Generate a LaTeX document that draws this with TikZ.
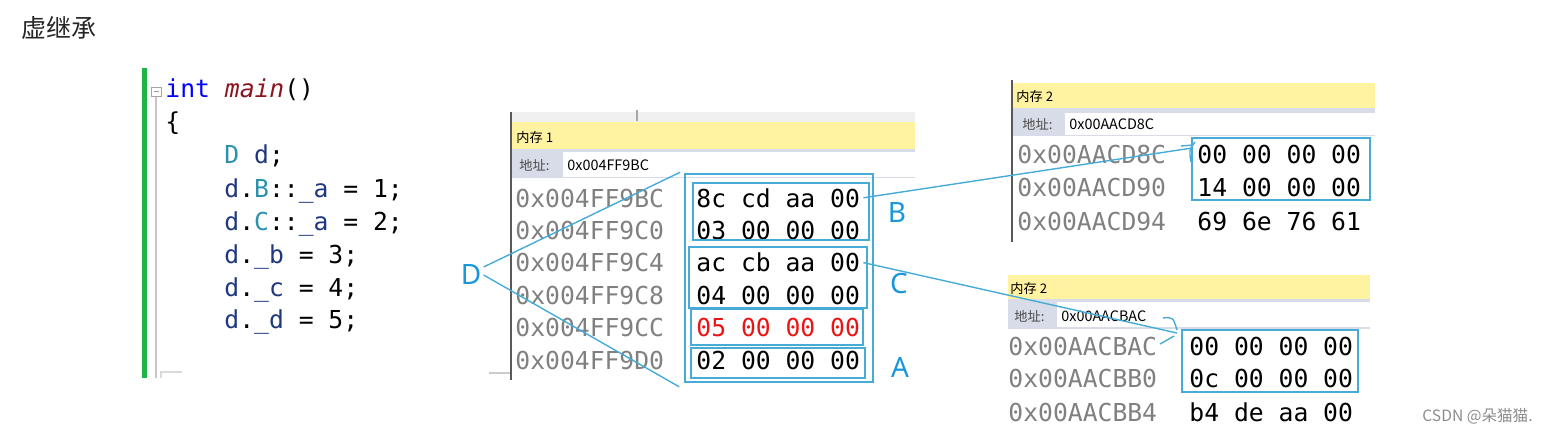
\documentclass[tikz,border=0pt]{standalone}
\usepackage{fontspec}
\usetikzlibrary{positioning,fit}
\newfontfamily\cjkfont{Noto Sans CJK SC}
\newfontfamily\codefont{DejaVu Sans Mono}
\newfontfamily\labfont{Noto Sans}
\definecolor{vsblue}{RGB}{0,0,255}
\definecolor{vsfunc}{RGB}{140,20,30}
\definecolor{vstype}{RGB}{43,145,175}
\definecolor{vsvar}{RGB}{31,55,127}
\definecolor{addrgray}{RGB}{128,128,128}
\definecolor{hexred}{RGB}{235,20,20}
\definecolor{selblue}{RGB}{70,172,215}
\definecolor{lblblue}{RGB}{25,150,220}
\definecolor{baryellow}{RGB}{255,242,160}
\definecolor{addrbar}{RGB}{216,220,233}
\definecolor{edgegreen}{RGB}{30,180,70}
\tikzset{
  codeln/.style={anchor=base west, inner sep=0pt, font=\codefont\fontsize{12.35}{14}\selectfont},
  addr/.style={codeln, text=addrgray},
  hexb/.style={codeln},
  bartxt/.style={anchor=west, inner sep=0pt, font=\cjkfont\fontsize{6.6}{8}\selectfont},
  fieldtxt/.style={anchor=west, inner sep=0pt, font=\cjkfont\fontsize{7.2}{8}\selectfont},
  selbox/.style={draw=selblue, line width=0.8pt, inner sep=0pt},
  lbl/.style={inner sep=1pt, font=\labfont\fontsize{14}{16}\selectfont, text=lblblue},
  lnk/.style={selblue, line width=0.7pt},
}

\begin{document}
\begin{tikzpicture}[x=0.5pt, y=-0.5pt]
  \useasboundingbox (0,0) rectangle (1551,435);
  % title
  \node[anchor=west, inner sep=0pt, font=\cjkfont\fontsize{12.5}{14}\selectfont, text=black!85] (title) at (21,28) {虚继承};

  % code editor
  \fill[edgegreen] (142,68) rectangle (147,378);
  \draw[gray!45, line width=1pt] (156,96) -- (156,378);
  \draw[gray!30, line width=1pt] (161,378) -- (161,372) -- (182,372);
  \draw[gray!70, fill=white, line width=0.5pt] (151,87) rectangle (161,96);
  \draw[gray!80, line width=0.5pt] (153.5,91.5) -- (158.5,91.5);
  \node[codeln] (ln0) at (165,97) {\textcolor{vsblue}{int} \textcolor{vsfunc}{\itshape main}()};
  \node[codeln] (ln1) at (165,130) {\{};
  \node[codeln] (ln2) at (224,163) {\textcolor{vstype}{D} \textcolor{vsvar}{d};};
  \node[codeln] (ln3) at (224,197) {\textcolor{vsvar}{d}.\textcolor{vstype}{B}::\textcolor{vsvar}{\_a} = 1;};
  \node[codeln] (ln4) at (224,230) {\textcolor{vsvar}{d}.\textcolor{vstype}{C}::\textcolor{vsvar}{\_a} = 2;};
  \node[codeln] (ln5) at (224,263) {\textcolor{vsvar}{d}.\textcolor{vsvar}{\_b} = 3;};
  \node[codeln] (ln6) at (224,296) {\textcolor{vsvar}{d}.\textcolor{vsvar}{\_c} = 4;};
  \node[codeln] (ln7) at (224,328) {\textcolor{vsvar}{d}.\textcolor{vsvar}{\_d} = 5;};

  % memory window 1
  \fill[gray!12] (511,112) rectangle (915,122);
  \draw[gray!70, line width=0.8pt] (637,110) -- (637,121);
  \fill[baryellow] (511,122) rectangle (915,149);
  \fill[addrbar] (511,149) rectangle (915,178);
  \fill[white] (563,152) rectangle (915,177);
  \draw[gray!40, line width=0.6pt] (489,373) -- (511,373);
  \draw[black!65, line width=1pt] (511,112) -- (511,380);
  \node[bartxt] (m1bar) at (516,137) {内存 1};
  \node[bartxt, text=black!70] (m1lbl) at (519,165) {地址:};
  \node[fieldtxt] (m1fld) at (567,165) {0x004FF9BC};
  \node[addr] (m1a1) at (515,207) {0x004FF9BC};
  \node[addr] (m1a2) at (515,239.4) {0x004FF9C0};
  \node[addr] (m1a3) at (515,271.8) {0x004FF9C4};
  \node[addr] (m1a4) at (515,304.2) {0x004FF9C8};
  \node[addr] (m1a5) at (515,336.6) {0x004FF9CC};
  \node[addr] (m1a6) at (515,369) {0x004FF9D0};
  \node[hexb] (m1h1) at (696,207) {8c cd aa 00};
  \node[hexb] (m1h2) at (696,239.4) {03 00 00 00};
  \node[hexb] (m1h3) at (696,271.8) {ac cb aa 00};
  \node[hexb] (m1h4) at (696,304.2) {04 00 00 00};
  \node[hexb, text=hexred] (m1h5) at (696,336.6) {05 00 00 00};
  \node[hexb] (m1h6) at (696,369) {02 00 00 00};
  \node[selbox, fit={(685,174) (873,382)}] (boxD) {};
  \node[selbox, fit={(693,183) (869,240)}] (boxB) {};
  \node[selbox, fit={(689,247) (867,308)}] (boxC) {};
  \node[selbox, fit={(691,309) (863,345)}] (boxE) {};
  \node[selbox, fit={(691,348) (865,378)}] (boxA) {};
  \node[lbl] (lblB) at (897,212) {B};
  \node[lbl] (lblC) at (899,283) {C};
  \node[lbl] (lblA) at (900,367) {A};
  \node[lbl] (lblD) at (471,274) {D};

  % memory window 2 (top)
  \fill[baryellow] (1012,83) rectangle (1375,108);
  \fill[addrbar] (1012,108) rectangle (1375,136);
  \fill[white] (1065,113) rectangle (1375,135);
  \draw[black!65, line width=1pt] (1012,80) -- (1012,242);
  \node[bartxt] (m2bar) at (1016,96) {内存 2};
  \node[bartxt, text=black!70] (m2lbl) at (1022,124) {地址:};
  \node[fieldtxt] (m2fld) at (1069,124) {0x00AACD8C};
  \node[addr] (m2a1) at (1017,163) {0x00AACD8C};
  \node[addr] (m2a2) at (1017,196.5) {0x00AACD90};
  \node[addr] (m2a3) at (1017,230) {0x00AACD94};
  \node[hexb] (m2h1) at (1197,163) {00 00 00 00};
  \node[hexb] (m2h2) at (1197,196.5) {14 00 00 00};
  \node[hexb] (m2h3) at (1197,230) {69 6e 76 61};
  \node[selbox, fit={(1192,138) (1370,200)}] (boxVB) {};

  % memory window 2 (bottom)
  \fill[baryellow] (1008,275) rectangle (1370,299);
  \fill[addrbar] (1008,299) rectangle (1370,329);
  \fill[white] (1057,302) rectangle (1370,327);
  \node[bartxt] (m3bar) at (1010,288) {内存 2};
  \node[bartxt, text=black!70] (m3lbl) at (1014,316) {地址:};
  \node[fieldtxt] (m3fld) at (1061,316) {0x00AACBAC};
  \node[addr] (m3a1) at (1008,355) {0x00AACBAC};
  \node[addr] (m3a2) at (1008,387.5) {0x00AACBB0};
  \node[addr] (m3a3) at (1008,421) {0x00AACBB4};
  \node[hexb] (m3h1) at (1189,355) {00 00 00 00};
  \node[hexb] (m3h2) at (1189,387.5) {0c 00 00 00};
  \node[hexb] (m3h3) at (1189,421) {b4 de aa 00};
  \node[selbox, fit={(1182,330) (1358,392)}] (boxVC) {};

  % pointers
  \coordinate (tipB) at (1192,148);
  \coordinate (tipC) at (1177,333);
  \draw[lnk] ([yshift=3.5pt]lblD.east) -- ([xshift=-2pt,yshift=0.5pt]boxD.north west);
  \draw[lnk] ([yshift=-0.5pt]lblD.east) -- ([xshift=-2.5pt,yshift=-2pt]boxD.south west);
  \draw[lnk] ([xshift=1.5pt]m1h1.east) -- (tipB);
  \draw[lnk] (1181,146) -- (1193,145);
  \draw[lnk] (1195,142) .. controls (1189,150) .. (1191,162);
  \draw[lnk] ([xshift=1.5pt]m1h3.east) -- (tipC);
  \draw[lnk] (1163,318) .. controls (1173,317) .. (1177,330);
  \draw[lnk] (1160,344) -- (1174,336);

  % watermark
  \node[anchor=west, inner sep=0pt, font=\cjkfont\fontsize{7.8}{9}\selectfont, text=black!45] (wmark) at (1422,416) {CSDN @朵猫猫.};
\end{tikzpicture}
\end{document}
